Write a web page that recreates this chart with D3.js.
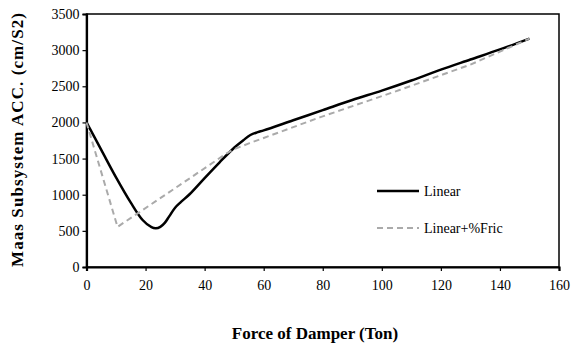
<!DOCTYPE html>
<html>
<head>
<meta charset="utf-8">
<script src="https://cdn.jsdelivr.net/npm/d3@7"></script>
<style>
  body { margin: 0; background: #fff; }
</style>
</head>
<body>
<div id="chart"></div>
<script>
var width = 571,
  height = 347;

var margin = { left: 86.5, top: 14, right: 12, bottom: 80 };
var serif = "'Liberation Serif', 'Times New Roman', serif";

// Linear (solid black)
var linearX = [0, 5, 10, 15, 19, 22, 23.5, 25, 26.5, 28, 30, 32, 35, 40, 45, 50, 53, 55.5, 58, 60, 70, 80, 90, 100, 110, 120, 130, 140, 150];
var linearY = [2000, 1620, 1240, 890, 650, 550, 535, 555, 610, 700, 820, 900, 1010, 1230, 1445, 1650, 1750, 1826, 1865, 1890, 2030, 2170, 2310, 2440, 2580, 2730, 2870, 3010, 3160];

// Linear+%Fric (dashed grey)
var fricX = [0, 10.5, 30, 47, 50, 55, 60, 79, 106, 130, 150];
var fricY = [2000, 555, 1090, 1560, 1630, 1710, 1785, 2070, 2448, 2800, 3160];

var xTicks = [0, 20, 40, 60, 80, 100, 120, 140, 160];
var yTicks = [0, 500, 1000, 1500, 2000, 2500, 3000, 3500];

var series = [
  { name: "Linear", x: linearX, y: linearY, color: "#000", width: 2.5, dash: null, curve: d3.curveCatmullRom },
  { name: "Linear+%Fric", x: fricX, y: fricY, color: "#aaaaaa", width: 2, dash: "6,4", curve: d3.curveLinear }
];

var xScale = d3.scaleLinear()
  .domain([0, 160])
  .range([margin.left, width - margin.right]);

var yScale = d3.scaleLinear()
  .domain([0, 3500])
  .range([height - margin.bottom, margin.top]);

var svg = d3.select("#chart")
  .append("svg")
  .attr("width", width)
  .attr("height", height);

// plot border
svg.append("rect")
  .attr("x", xScale(0))
  .attr("y", yScale(3500))
  .attr("width", xScale(160) - xScale(0))
  .attr("height", yScale(0) - yScale(3500))
  .attr("fill", "none")
  .attr("stroke", "#000")
  .attr("stroke-width", 1.5);

var xAxis = svg.append("g")
  .attr("transform", "translate(0," + yScale(0) + ")")
  .call(d3.axisBottom(xScale).tickValues(xTicks).tickFormat(d3.format("d")).tickSize(4).tickPadding(9));

var yAxis = svg.append("g")
  .attr("transform", "translate(" + xScale(0) + ",0)")
  .call(d3.axisLeft(yScale).tickValues(yTicks).tickFormat(d3.format("d")).tickSize(4).tickPadding(3));

[xAxis, yAxis].forEach(function(ax) {
  ax.attr("font-family", null).attr("font-size", null);
  ax.select(".domain").attr("stroke", "#000").attr("stroke-width", 2.2);
  ax.selectAll(".tick line").attr("stroke", "#000").attr("stroke-width", 1.2);
  ax.selectAll(".tick text")
    .attr("fill", "#000")
    .style("font-family", serif)
    .style("font-size", "14px");
});

series.forEach(function(s) {
  var pts = s.x.map(function(v, i) { return [v, s.y[i]]; });
  var line = d3.line()
    .x(function(d) { return xScale(d[0]); })
    .y(function(d) { return yScale(d[1]); })
    .curve(s.curve);
  svg.append("path")
    .datum(pts)
    .attr("d", line)
    .attr("fill", "none")
    .attr("stroke", s.color)
    .attr("stroke-width", s.width)
    .attr("stroke-dasharray", s.dash)
    .attr("stroke-linejoin", "round");
});

// legend
var legend = svg.append("g").attr("transform", "translate(377,191)");
series.forEach(function(s, i) {
  var g = legend.append("g").attr("transform", "translate(0," + (i * 37) + ")");
  g.append("line")
    .attr("x1", 0).attr("x2", 42)
    .attr("y1", 0).attr("y2", 0)
    .attr("stroke", s.color)
    .attr("stroke-width", s.width)
    .attr("stroke-dasharray", s.dash);
  g.append("text")
    .attr("x", 47)
    .attr("y", 5)
    .style("font-family", serif)
    .style("font-size", "14px")
    .text(s.name);
});

// axis titles
svg.append("text")
  .attr("x", 315)
  .attr("y", 339)
  .attr("text-anchor", "middle")
  .style("font-family", serif)
  .style("font-size", "17px")
  .style("font-weight", "bold")
  .text("Force of Damper (Ton)");

svg.append("text")
  .attr("transform", "translate(23,140) rotate(-90)")
  .attr("text-anchor", "middle")
  .style("font-family", serif)
  .style("font-size", "17px")
  .style("font-weight", "bold")
  .attr("textLength", 254)
  .text("Maas Subsystem ACC. (cm/S2)");
</script>
</body>
</html>
